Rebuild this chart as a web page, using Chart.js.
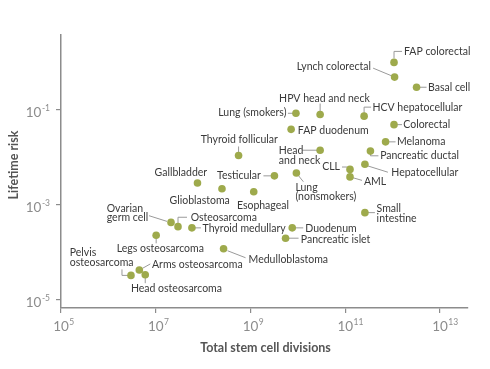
<!DOCTYPE html>
<html><head><meta charset="utf-8">
<script src="https://cdn.jsdelivr.net/npm/chart.js@4.4.1/dist/chart.umd.min.js"></script>
<style>html,body{margin:0;padding:0;background:#fff}</style>
</head><body>
<canvas id="c" width="490" height="369"></canvas>
<script>
// ---- data ----
const cancerTypes = ['FAP colorectal','Lynch colorectal','Basal cell','Lung (smokers)','HPV head and neck','HCV hepatocellular','Colorectal','FAP duodenum','Melanoma','Head and neck','Pancreatic ductal','Hepatocellular','CLL','AML','Testicular','Lung (nonsmokers)','Thyroid follicular','Gallbladder','Glioblastoma','Esophageal','Small intestine','Ovarian germ cell','Osteosarcoma','Thyroid medullary','Duodenum','Pancreatic islet','Legs osteosarcoma','Medulloblastoma','Arms osteosarcoma','Pelvis osteosarcoma','Head osteosarcoma'];
const stemCellDivisions = [1.07e12,1.1e12,3.2e12,9.1e9,2.95e10,2.5e11,1.07e12,7.2e9,7.1e11,2.95e10,3.4e11,2.6e11,1.26e11,1.26e11,3.2e9,9.3e9,5.6e8,7.6e7,2.5e8,1.17e9,2.6e11,2.1e7,2.95e7,5.8e7,7.6e9,5.5e9,1.02e7,2.7e8,4.5e6,3.0e6,6.0e6];
const lifetimeRisk = [1.0,0.49,0.30,0.085,0.080,0.074,0.049,0.039,0.0213,0.0142,0.0136,0.0072,0.0056,0.0039,0.0041,0.0047,0.011,0.0029,0.0022,0.0019,0.00069,0.00043,0.00035,0.00033,0.00033,0.0002,0.00023,0.00012,0.000043,0.000033,0.000034];
const xTickValues = [1e5,1e7,1e9,1e11,1e13];
const xTickExponents = ['5','7','9','11','13'];
const yTickValues = [1e-5,1e-3,1e-1];
const yTickExponents = ['-5','-3','-1'];
const xAxisTitle = 'Total stem cell divisions';
const yAxisTitle = 'Lifetime risk';

// ---- label layout: text lines, offset from point (px), alignment, leader polyline ----
const labelLayout = [
 {t:['FAP colorectal'],dx:10,dy:-11,a:'left',l:[[0,-4],[0,-11],[8,-11]]},
 {t:['Lynch colorectal'],dx:-23.6,dy:-10.3,a:'right',l:[[-21.5,-9],[-3,-1.3]]},
 {t:['Basal cell'],dx:11.5,dy:0,a:'left',l:[[0,0],[10,0]]},
 {t:['Lung (smokers)'],dx:-9.5,dy:-1,a:'right',l:[[-8,0],[0,0]]},
 {t:['HPV head and neck'],dx:4.3,dy:-16.4,a:'center',l:[[0,0],[0,-11]]},
 {t:['HCV hepatocellular'],dx:8.4,dy:-9,a:'left',l:[[0,-3],[0,-9],[7,-9]]},
 {t:['Colorectal'],dx:9.3,dy:0,a:'left',l:[[0,0],[8,0]]},
 {t:['FAP duodenum'],dx:6.7,dy:1.5,a:'left',l:null},
 {t:['Melanoma'],dx:11.4,dy:0,a:'left',l:[[0,0],[10,0]]},
 {t:['Head','and neck'],dx:-41.3,dy:0.7,a:'left',lh:9.3,l:[[-18,0],[0,0]]},
 {t:['Pancreatic ductal'],dx:9.7,dy:4.7,a:'left',l:[[0,0],[0,4.7],[8,4.7]]},
 {t:['Hepatocellular'],dx:26.4,dy:8.4,a:'left',l:[[2,1.4],[23,8]]},
 {t:['CLL'],dx:-10,dy:-2.4,a:'right',l:[[-8,-2.4],[-3,-2.4],[0,0]]},
 {t:['AML'],dx:14,dy:4.7,a:'left',l:[[0,0],[12,3.5]]},
 {t:['Testicular'],dx:-13.6,dy:0,a:'right',l:[[-11,0],[0,0]]},
 {t:['Lung','(nonsmokers)'],dx:-1,dy:14.3,a:'left',lh:9.7,l:[[0,0],[7,8.7]]},
 {t:['Thyroid follicular'],dx:0.7,dy:-15.7,a:'center',l:[[0,0],[0,-9]]},
 {t:['Gallbladder'],dx:-16.6,dy:-10.7,a:'center',l:null},
 {t:['Glioblastoma'],dx:-22.3,dy:12.3,a:'center',l:null},
 {t:['Esophageal'],dx:9.2,dy:13.5,a:'center',l:null},
 {t:['Small','intestine'],dx:11.7,dy:-3.7,a:'left',lh:9.7,l:[[0,0],[10,0]]},
 {t:['Ovarian','germ cell'],dx:-64.3,dy:-13.7,a:'left',lh:9.3,l:[[-22,-6.7],[-4,-1]]},
 {t:['Osteosarcoma'],dx:12.7,dy:-9.4,a:'left',l:[[0,-3],[0,-9.4],[9,-9.4]]},
 {t:['Thyroid medullary'],dx:10.6,dy:0.8,a:'left',l:[[0,0],[9,0]]},
 {t:['Duodenum'],dx:13,dy:0.5,a:'left',l:[[0,0],[11,0]]},
 {t:['Pancreatic islet'],dx:15.3,dy:1.7,a:'left',l:[[0,0],[13,0]]},
 {t:['Legs osteosarcoma'],dx:4.2,dy:13.6,a:'center',l:[[0,0],[0,8]]},
 {t:['Medulloblastoma'],dx:25,dy:10.9,a:'left',l:[[4,2],[22,9]]},
 {t:['Arms osteosarcoma'],dx:12.7,dy:-5.6,a:'left',l:[[3,-1.5],[11,-6]]},
 {t:['Pelvis','osteosarcoma'],dx:-61.3,dy:-22.4,a:'left',lh:10,l:[[-9,-6],[-9,0],[0,0]]},
 {t:['Head osteosarcoma'],dx:-14.3,dy:14,a:'left',l:[[0,0],[0,8.4]]}
];

const LABEL_FONT = '10.5px Lato, "Open Sans", sans-serif';
const TICK_FONT = '13.5px Lato, sans-serif';
const SUP_FONT = '8.5px Lato, sans-serif';
const TITLE_FONT = 'bold 12.5px Lato, sans-serif';

const labelPlugin = {
  id: 'labelPlugin',
  beforeDatasetsDraw(chart) {
    const ctx = chart.ctx, meta = chart.getDatasetMeta(0);
    ctx.save();
    ctx.strokeStyle = '#9a9a9a'; ctx.lineWidth = 1;
    meta.data.forEach((pt, i) => {
      const L = labelLayout[i];
      if (!L.l) return;
      ctx.beginPath();
      L.l.forEach(([a, b], k) => { const X = pt.x + a, Y = pt.y + b; k ? ctx.lineTo(X, Y) : ctx.moveTo(X, Y); });
      ctx.stroke();
    });
    ctx.restore();
  },
  afterDatasetsDraw(chart) {
    const ctx = chart.ctx, meta = chart.getDatasetMeta(0);
    ctx.save();
    ctx.font = LABEL_FONT; ctx.fillStyle = '#3a3a3a'; ctx.textBaseline = 'middle';
    meta.data.forEach((pt, i) => {
      const L = labelLayout[i];
      ctx.textAlign = L.a;
      L.t.forEach((s, k) => ctx.fillText(s, pt.x + L.dx, pt.y + L.dy + k * (L.lh || 10)));
    });
    ctx.restore();
  },
  afterDraw(chart) {
    const ctx = chart.ctx, xs = chart.scales.x, ys = chart.scales.y;
    ctx.save();
    ctx.fillStyle = '#8c8c8c'; ctx.textBaseline = 'middle';
    // x tick labels
    xTickValues.forEach((v, i) => {
      const px = xs.getPixelForValue(v);
      ctx.font = TICK_FONT; ctx.textAlign = 'center';
      const w = ctx.measureText('10').width;
      ctx.fillText('10', px, ys.bottom + 18.5);
      ctx.font = SUP_FONT; ctx.textAlign = 'left';
      ctx.fillText(xTickExponents[i], px + w / 2 + 0.5, ys.bottom + 14.5);
    });
    // y tick labels
    yTickValues.forEach((v, i) => {
      const py = ys.getPixelForValue(v);
      ctx.font = SUP_FONT; ctx.textAlign = 'right';
      const sw = ctx.measureText(yTickExponents[i]).width;
      ctx.fillText(yTickExponents[i], 50, py - 2);
      ctx.font = TICK_FONT;
      ctx.fillText('10', 50 - sw - 0.5, py + 2.5);
    });
    // axis titles
    ctx.fillStyle = '#555'; ctx.font = TITLE_FONT; ctx.textAlign = 'center';
    ctx.fillText(xAxisTitle, (xs.left + xs.right) / 2 + 1, 348);
    ctx.translate(13.5, 165); ctx.rotate(-Math.PI / 2);
    ctx.fillText(yAxisTitle, 0, 0);
    ctx.restore();
  }
};

new Chart(document.getElementById('c'), {
  type: 'scatter',
  data: {
    datasets: [{
      data: stemCellDivisions.map((x, i) => ({ x, y: lifetimeRisk[i] })),
      backgroundColor: '#9eaa4c', borderWidth: 0, pointRadius: 3.8, pointHoverRadius: 3.8
    }]
  },
  options: {
    responsive: false, animation: false, devicePixelRatio: 1,
    layout: { padding: { top: 35, right: 22, left: 0, bottom: 0 } },
    plugins: { legend: { display: false }, tooltip: { enabled: false } },
    clip: false,
    scales: {
      x: {
        type: 'logarithmic', min: 1e5, max: 3.9e13, bounds: 'data',
        afterBuildTicks: s => { s.ticks = xTickValues.map(v => ({ value: v })); },
        afterFit: s => { s.height = 61; },
        ticks: { display: false },
        grid: { drawOnChartArea: false, drawTicks: true, tickLength: 5, color: '#8c8c8c', lineWidth: 1.2 },
        border: { color: '#8c8c8c', width: 1.5 }
      },
      y: {
        type: 'logarithmic', min: 6.8e-6, max: 3.77, bounds: 'data',
        afterBuildTicks: s => { s.ticks = yTickValues.map(v => ({ value: v })); },
        afterFit: s => { s.width = 61; },
        ticks: { display: false },
        grid: { drawOnChartArea: false, drawTicks: true, tickLength: 5, color: '#8c8c8c', lineWidth: 1.2 },
        border: { color: '#8c8c8c', width: 1.5 }
      }
    }
  },
  plugins: [labelPlugin]
});
</script>
</body></html>
